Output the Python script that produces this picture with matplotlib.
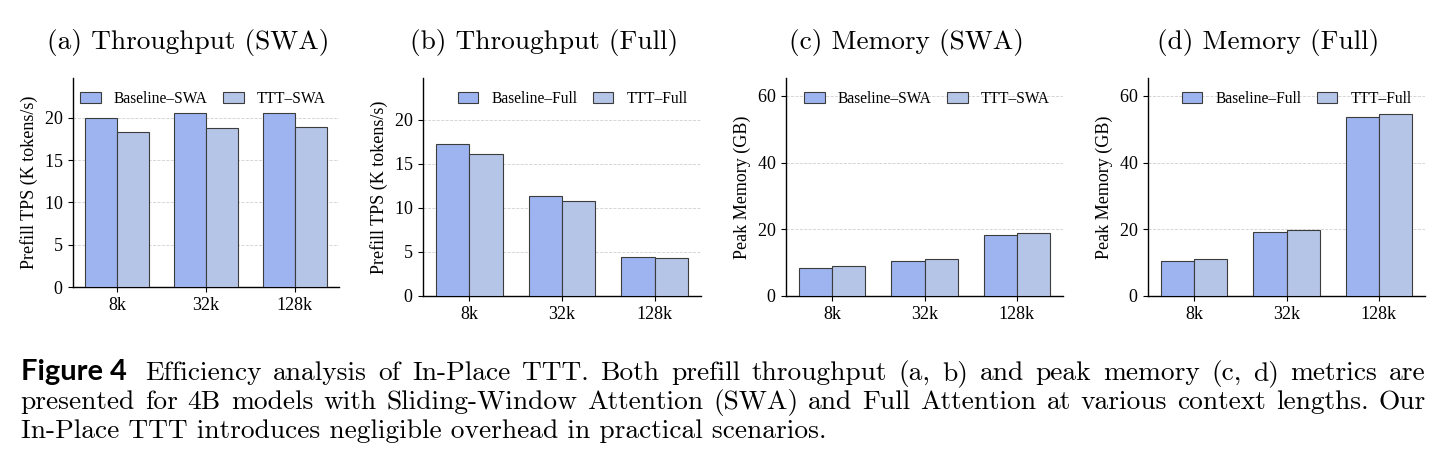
import matplotlib
matplotlib.use("Agg")
import matplotlib.pyplot as plt
import numpy as np

# context lengths on the x axis
contexts = ["8k", "32k", "128k"]

# prefill throughput, K tokens/s
tps_swa_base = [20.0, 20.55, 20.6]
tps_swa_ttt = [18.3, 18.85, 18.9]
tps_full_base = [17.25, 11.3, 4.37]
tps_full_ttt = [16.1, 10.8, 4.33]

# peak memory, GB
mem_swa_base = [8.5, 10.4, 18.2]
mem_swa_ttt = [9.1, 11.0, 18.8]
mem_full_base = [10.4, 19.1, 53.75]
mem_full_ttt = [11.0, 19.7, 54.45]

titles = ["(a) Throughput (SWA)", "(b) Throughput (Full)",
          "(c) Memory (SWA)", "(d) Memory (Full)"]

caption_head = "Figure 4"
caption_lines = [
    "Efficiency analysis of In-Place TTT. Both prefill throughput (a, b) and peak memory (c, d) metrics are",
    "presented for 4B models with Sliding-Window Attention (SWA) and Full Attention at various context lengths. Our",
    "In-Place TTT introduces negligible overhead in practical scenarios.",
]

W, H = 1450, 468
plt.rcParams['font.family'] = ['Liberation Serif', 'DejaVu Serif']
plt.rcParams['axes.formatter.use_mathtext'] = True

c_base = '#9db4f0'
c_ttt = '#b5c5e7'
c_edge = '#3c3c3c'

fig = plt.figure(figsize=(W / 100, H / 100), dpi=100)

# pixel boxes (left, right, top, bottom)
boxes = [(73, 339, 78, 287), (423, 701, 78, 296), (786, 1063, 78, 296), (1148, 1425, 78, 296)]

tps_top = max(tps_swa_base + tps_swa_ttt + tps_full_base + tps_full_ttt) * 1.2
mem_top = max(mem_swa_base + mem_swa_ttt + mem_full_base + mem_full_ttt) * 1.2

panels = [
    (tps_swa_base, tps_swa_ttt, "Baseline\u2013SWA", "TTT\u2013SWA", "Prefill TPS (K tokens/s)", tps_top, [0, 5, 10, 15, 20]),
    (tps_full_base, tps_full_ttt, "Baseline\u2013Full", "TTT\u2013Full", "Prefill TPS (K tokens/s)", tps_top, [0, 5, 10, 15, 20]),
    (mem_swa_base, mem_swa_ttt, "Baseline\u2013SWA", "TTT\u2013SWA", "Peak Memory (GB)", mem_top, [0, 20, 40, 60]),
    (mem_full_base, mem_full_ttt, "Baseline\u2013Full", "TTT\u2013Full", "Peak Memory (GB)", mem_top, [0, 20, 40, 60]),
]

x = np.arange(len(contexts))
width = 0.36
axes = []
for (l, r, t, b), (base, ttt, lab1, lab2, ylab, top, ticks) in zip(boxes, panels):
    ax = fig.add_axes([l / W, 1 - b / H, (r - l) / W, (b - t) / H])
    ax.bar(x - width / 2, base, width, color=c_base, edgecolor=c_edge, linewidth=0.8, label=lab1, zorder=3)
    ax.bar(x + width / 2, ttt, width, color=c_ttt, edgecolor=c_edge, linewidth=0.8, label=lab2, zorder=3)
    ax.set_xlim(-0.5, 2.5)
    ax.set_ylim(0, top)
    ax.set_yticks(ticks)
    ax.set_xticks(x)
    ax.set_xticklabels(contexts)
    ax.tick_params(labelsize=13, length=3.5, width=0.8)
    ax.set_ylabel(ylab, fontsize=13, labelpad=4)
    ax.yaxis.grid(True, linestyle='--', color='#d0d0d0', linewidth=0.6, zorder=0)
    ax.set_axisbelow(True)
    for s in ['top', 'right']:
        ax.spines[s].set_visible(False)
    for s in ['left', 'bottom']:
        ax.spines[s].set_linewidth(1.0)
    ax.legend(loc='upper right', ncol=2, frameon=False, fontsize=11.2,
              handlelength=1.3, handleheight=0.75, handletextpad=0.85, columnspacing=1.0,
              borderaxespad=0.45)
    axes.append(ax)

fig.canvas.draw()
rend = fig.canvas.get_renderer()

# titles, fitted to the reference width of panel (b)
probe = fig.text(0, 0, titles[1], fontsize=10, family='cmr10')
tw = probe.get_window_extent(rend).width
probe.remove()
title_fs = 10 * 268 / tw
for (l, r, t, b), ttl in zip(boxes, titles):
    fig.text(((l + r) / 2 - 18) / W, 1 - 49 / H, ttl, fontsize=title_fs, family='cmr10',
             ha='center', va='baseline')

# caption
probe = fig.text(0, 0, caption_lines[2], fontsize=10, family='cmr10')
cw = probe.get_window_extent(rend).width
probe.remove()
cap_fs = 10 * 807 / cw

probe = fig.text(0, 0, caption_head, fontsize=10, family='Lato', fontweight='bold')
hw = probe.get_window_extent(rend).width
probe.remove()
head_fs = 10 * 106 / hw
fig.text(20.7 / W, 1 - 380 / H, caption_head, fontsize=head_fs, family='Lato',
         fontweight='bold', va='baseline')


def put_line(text, x0, x1, y):
    words = text.split(' ')
    items = [fig.text(0, 1 - y / H, w, fontsize=cap_fs, family='cmr10', va='baseline') for w in words]
    fig.canvas.draw()
    ws = [it.get_window_extent(rend).width for it in items]
    gap = (x1 - x0 - sum(ws)) / (len(words) - 1)
    pos = x0
    for it, w in zip(items, ws):
        it.set_x(pos / W)
        pos += w + gap


put_line(caption_lines[0], 145, 1425.7, 380)
put_line(caption_lines[1], 20.7, 1425.7, 409)
fig.text(20.7 / W, 1 - 438 / H, caption_lines[2], fontsize=cap_fs, family='cmr10', va='baseline')

fig.savefig("out.png", dpi=100)
